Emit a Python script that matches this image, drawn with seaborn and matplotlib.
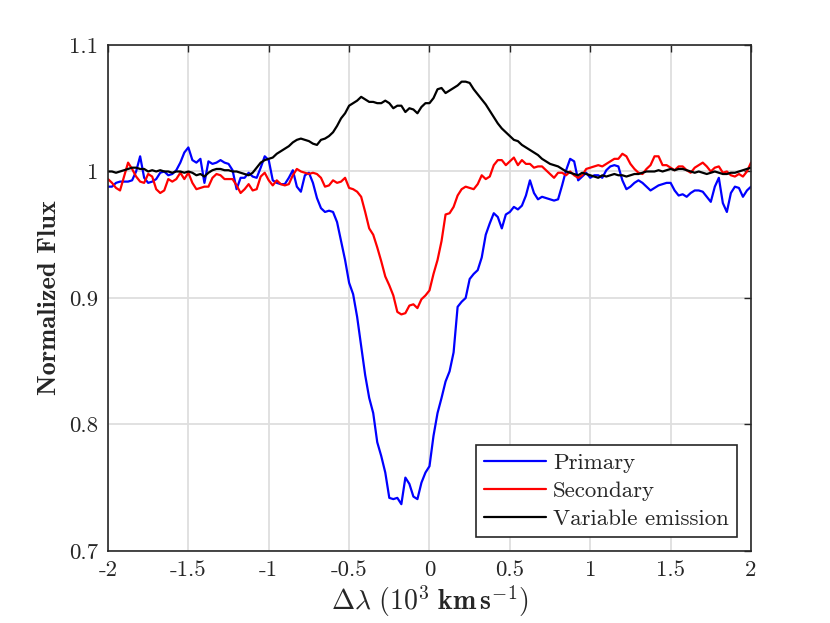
import numpy as np
import pandas as pd
import matplotlib
matplotlib.use("Agg")
import matplotlib.pyplot as plt
import seaborn as sns

# Velocity grid (10^3 km/s), step 0.025
dlam = np.linspace(-2, 2, 161)

primary = [
    0.988, 0.988, 0.991, 0.992, 0.992, 0.992, 0.993, 1.000, 1.012, 0.995,
    0.991, 0.992, 0.994, 0.999, 1.000, 0.997, 0.998, 1.001, 1.007, 1.015,
    1.019, 1.009, 1.007, 1.010, 0.991, 1.008, 1.006, 1.007, 1.009, 1.007,
    1.006, 1.001, 0.986, 0.995, 0.995, 0.999, 0.996, 0.995, 1.003, 1.012,
    1.009, 0.993, 0.991, 0.990, 0.990, 0.995, 1.001, 0.988, 0.984, 0.997,
    0.999, 0.991, 0.979, 0.971, 0.968, 0.969, 0.968, 0.960, 0.945, 0.930,
    0.912, 0.903, 0.885, 0.862, 0.839, 0.821, 0.809, 0.786, 0.775, 0.762,
    0.742, 0.741, 0.742, 0.737, 0.758, 0.753, 0.743, 0.741, 0.754, 0.762,
    0.767, 0.791, 0.809, 0.821, 0.834, 0.842, 0.857, 0.893, 0.897, 0.900,
    0.915, 0.919, 0.922, 0.932, 0.950, 0.959, 0.967, 0.964, 0.955, 0.966,
    0.968, 0.972, 0.970, 0.973, 0.981, 0.993, 0.983, 0.978, 0.980, 0.979,
    0.978, 0.977, 0.978, 0.989, 1.001, 1.010, 1.008, 0.993, 0.996, 0.999,
    0.995, 0.997, 0.997, 0.995, 1.001, 1.004, 1.005, 1.004, 0.993, 0.986,
    0.988, 0.991, 0.993, 0.991, 0.988, 0.985, 0.987, 0.989, 0.990, 0.991,
    0.991, 0.985, 0.981, 0.982, 0.980, 0.983, 0.985, 0.985, 0.984, 0.980,
    0.976, 0.988, 0.995, 0.975, 0.968, 0.983, 0.988, 0.987, 0.980, 0.985,
    0.988,
]

secondary = [
    0.994, 0.991, 0.987, 0.985, 0.996, 1.007, 1.002, 0.996, 0.992, 0.991,
    0.998, 0.996, 0.986, 0.983, 0.985, 0.994, 0.992, 0.994, 0.999, 0.994,
    0.999, 0.991, 0.986, 0.987, 0.988, 0.988, 0.995, 0.998, 0.997, 0.994,
    0.994, 0.994, 0.989, 0.983, 0.986, 0.990, 0.985, 0.986, 0.996, 0.999,
    0.993, 0.989, 0.993, 0.990, 0.989, 0.990, 0.997, 1.002, 1.000, 0.999,
    0.998, 0.999, 0.998, 0.995, 0.988, 0.989, 0.993, 0.991, 0.992, 0.995,
    0.987, 0.986, 0.984, 0.980, 0.968, 0.955, 0.950, 0.940, 0.929, 0.917,
    0.910, 0.902, 0.889, 0.887, 0.888, 0.894, 0.895, 0.892, 0.899, 0.902,
    0.906, 0.919, 0.930, 0.945, 0.966, 0.967, 0.972, 0.981, 0.986, 0.988,
    0.987, 0.986, 0.990, 0.997, 0.994, 0.996, 1.005, 1.009, 1.009, 1.005,
    1.008, 1.011, 1.005, 1.009, 1.006, 1.006, 1.003, 1.004, 1.004, 1.001,
    0.998, 0.995, 0.999, 0.999, 0.997, 1.000, 0.997, 0.995, 0.997, 1.002,
    1.003, 1.004, 1.005, 1.004, 1.006, 1.008, 1.010, 1.010, 1.014, 1.012,
    1.006, 1.002, 0.999, 0.998, 1.002, 1.005, 1.012, 1.012, 1.005, 1.005,
    1.003, 1.001, 1.004, 1.004, 1.001, 0.999, 1.003, 1.005, 1.007, 1.004,
    1.000, 1.003, 1.004, 0.999, 1.000, 0.997, 0.996, 0.998, 0.996, 1.000,
    1.007,
]

variable = [
    1.000, 1.000, 0.999, 1.000, 1.001, 1.002, 1.003, 1.003, 1.002, 1.002,
    1.000, 1.001, 1.000, 1.001, 1.000, 1.000, 0.999, 1.000, 1.000, 0.999,
    1.000, 0.999, 0.997, 0.998, 0.996, 0.999, 1.001, 1.002, 1.002, 1.001,
    1.001, 1.000, 1.000, 0.999, 0.998, 0.997, 0.999, 1.003, 1.007, 1.009,
    1.010, 1.011, 1.014, 1.016, 1.018, 1.020, 1.023, 1.025, 1.026, 1.025,
    1.024, 1.022, 1.021, 1.025, 1.026, 1.028, 1.031, 1.036, 1.042, 1.046,
    1.052, 1.054, 1.056, 1.059, 1.057, 1.055, 1.055, 1.054, 1.054, 1.056,
    1.054, 1.050, 1.052, 1.052, 1.047, 1.050, 1.049, 1.046, 1.051, 1.054,
    1.054, 1.058, 1.065, 1.066, 1.062, 1.064, 1.066, 1.068, 1.071, 1.071,
    1.070, 1.065, 1.061, 1.057, 1.053, 1.048, 1.043, 1.038, 1.034, 1.031,
    1.028, 1.025, 1.024, 1.021, 1.019, 1.017, 1.015, 1.013, 1.010, 1.008,
    1.006, 1.005, 1.004, 1.002, 1.000, 0.999, 0.998, 0.997, 0.999, 0.998,
    0.997, 0.996, 0.995, 0.997, 0.996, 0.997, 0.998, 0.997, 0.997, 0.996,
    0.997, 0.998, 0.998, 0.999, 1.000, 1.000, 1.000, 1.001, 1.000, 1.001,
    1.002, 1.001, 1.002, 1.002, 1.001, 1.000, 0.999, 1.000, 0.999, 0.998,
    0.999, 1.000, 0.999, 0.998, 0.998, 0.999, 0.999, 1.000, 1.001, 1.002,
    1.003,
]

labels = ["Primary", "Secondary", "Variable emission"]
colors = ["#0000ff", "#ff0000", "#000000"]

xticks = [-2, -1.5, -1, -0.5, 0, 0.5, 1, 1.5, 2]
xticklabels = ["-2", "-1.5", "-1", "-0.5", "0", "0.5", "1", "1.5", "2"]
yticks = [0.7, 0.8, 0.9, 1.0, 1.1]
yticklabels = ["0.7", "0.8", "0.9", "1", "1.1"]

df = pd.DataFrame({
    "dlam": np.concatenate([dlam, dlam, dlam]),
    "flux": np.concatenate([primary, secondary, variable]),
    "series": np.repeat(labels, len(dlam)),
})

sns.set_style("whitegrid")
plt.rcParams["font.family"] = ["cmr10", "DejaVu Serif"]
plt.rcParams["mathtext.fontset"] = "cm"
plt.rcParams["axes.unicode_minus"] = False

fig = plt.figure(figsize=(8.3, 6.23), dpi=100)
ax = fig.add_axes([0.1301, 0.1156, 0.7747, 0.8122])

sns.lineplot(data=df, x="dlam", y="flux", hue="series", hue_order=labels,
             palette=colors, estimator=None, linewidth=1.6, ax=ax)

ax.set_xlim(-2, 2)
ax.set_ylim(0.7, 1.1)
ax.set_xticks(xticks)
ax.set_xticklabels(xticklabels)
ax.set_yticks(yticks)
ax.set_yticklabels(yticklabels)

ax.grid(True, color="#dedede", linewidth=1.3)
for s in ax.spines.values():
    s.set_visible(True)
    s.set_color("#262626")
    s.set_linewidth(1.2)
ax.tick_params(direction="in", length=5, width=1.0, top=True, right=True,
               labelsize=16.5, colors="#262626", pad=7)

ax.set_xlabel(r"$\Delta\lambda\ (10^3\ \mathbf{km}\,\mathbf{s}^{-1})$",
              fontsize=20, labelpad=2)
ax.set_ylabel("Normalized Flux", fontfamily="cmb10", fontsize=19, labelpad=6)

leg = ax.legend(loc="lower right", bbox_to_anchor=(0.978, 0.028),
                borderaxespad=0, fontsize=16.5, handlelength=2.7,
                handletextpad=0.3, labelspacing=0.35, borderpad=0.35,
                fancybox=False, framealpha=1, edgecolor="#262626")
leg.get_frame().set_linewidth(1.2)

fig.savefig("out.png", dpi=100, facecolor="white")
